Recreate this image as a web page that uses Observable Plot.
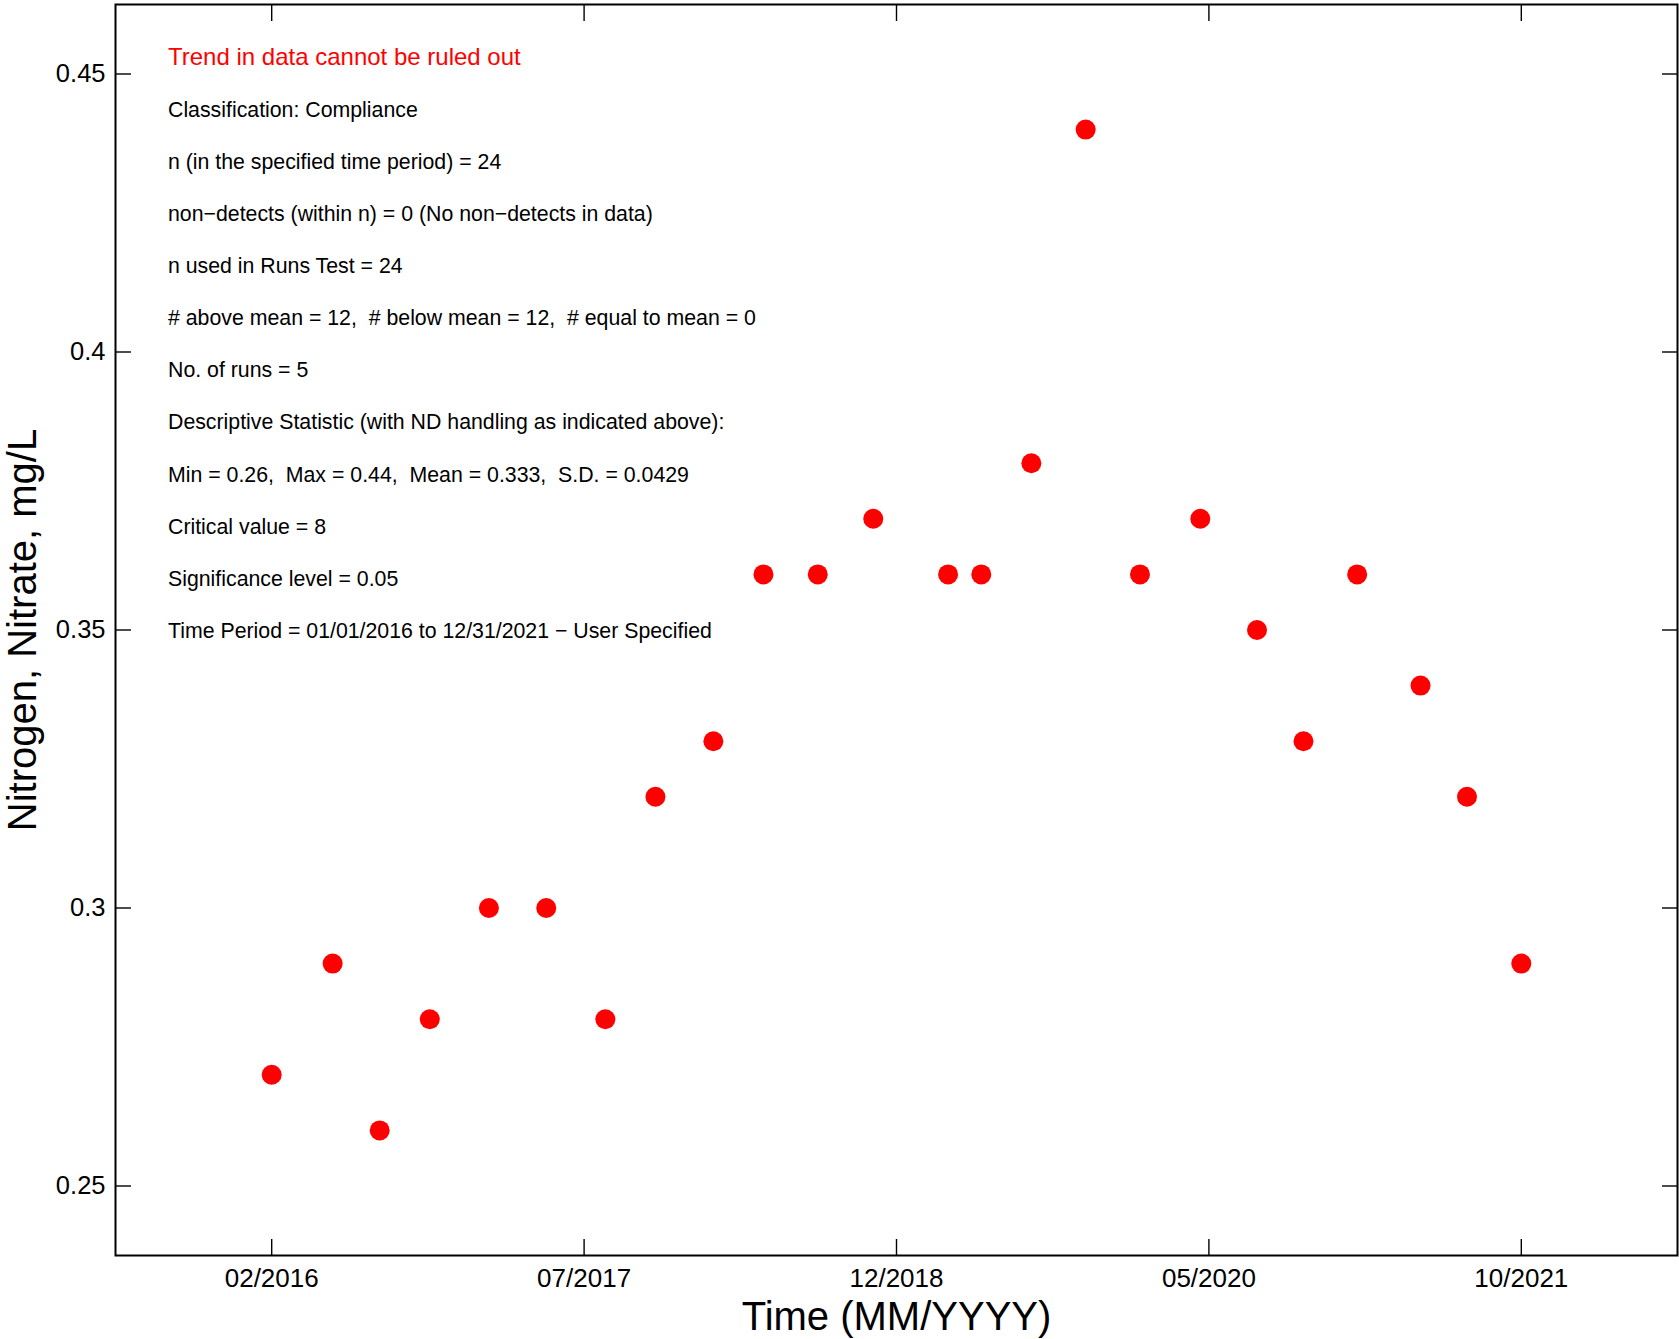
<!DOCTYPE html>
<html>
<head>
<meta charset="utf-8">
<script src="https://cdn.jsdelivr.net/npm/d3@7"></script>
<script src="https://cdn.jsdelivr.net/npm/@observablehq/plot@0.6"></script>
<style>
  html, body { margin: 0; padding: 0; background: #fff; }
  svg text { white-space: pre; }
</style>
</head>
<body>
<div id="chart"></div>
<script>
// ---- data ----
const sampleDates = [
  "2016-02-03", "2016-05-14", "2016-07-31", "2016-10-22", "2017-01-28", "2017-05-03",
  "2017-08-09", "2017-10-31", "2018-02-04", "2018-04-28", "2018-07-27", "2018-10-27",
  "2019-02-28", "2019-04-24", "2019-07-16", "2019-10-14", "2020-01-12", "2020-04-21",
  "2020-07-24", "2020-10-09", "2021-01-06", "2021-04-21", "2021-07-07", "2021-10-05"
];
const nitrateValues = [
  0.27, 0.29, 0.26, 0.28, 0.30, 0.30,
  0.28, 0.32, 0.33, 0.36, 0.36, 0.37,
  0.36, 0.36, 0.38, 0.44, 0.36, 0.37,
  0.35, 0.33, 0.36, 0.34, 0.32, 0.29
];
const xTickLabels = ["02/2016", "07/2017", "12/2018", "05/2020", "10/2021"];
const yTicks = [0.25, 0.3, 0.35, 0.4, 0.45];
const yDomain = [0.2375, 0.4625];
const xLabel = "Time (MM/YYYY)";
const yLabel = "Nitrogen, Nitrate, mg/L";
const annotationTitle = "Trend in data cannot be ruled out";
const annotationLines = [
  "Classification: Compliance",
  "n (in the specified time period) = 24",
  "non\u2212detects (within n) = 0 (No non\u2212detects in data)",
  "n used in Runs Test = 24",
  "# above mean = 12,  # below mean = 12,  # equal to mean = 0",
  "No. of runs = 5",
  "Descriptive Statistic (with ND handling as indicated above):",
  "Min = 0.26,  Max = 0.44,  Mean = 0.333,  S.D. = 0.0429",
  "Critical value = 8",
  "Significance level = 0.05",
  "Time Period = 01/01/2016 to 12/31/2021 \u2212 User Specified"
];

// ---- build table ----
const data = sampleDates.map((d, i) => ({date: new Date(d), value: nitrateValues[i]}));
const [t0, t1] = d3.extent(data, d => d.date);
const span = t1 - t0;
const xDomain = [new Date(+t0 - span / 8), new Date(+t1 + span / 8)];
const xTicks = xTickLabels.map((_, i) => new Date(+t0 + i * span / (xTickLabels.length - 1)));
const xLabelMap = new Map(xTicks.map((t, i) => [+t, xTickLabels[i]]));

const font = "'Liberation Sans', Arial, Helvetica, sans-serif";

const chart = Plot.plot({
  width: 1679,
  height: 1339,
  marginLeft: 115,
  marginRight: 2,
  marginTop: 4,
  marginBottom: 84,
  style: {fontFamily: font, background: "#fff", color: "#000"},
  x: {type: "utc", domain: xDomain, label: null},
  y: {domain: yDomain, label: null},
  marks: [
    Plot.axisX(xTicks, {anchor: "bottom", tickSize: -16, tickPadding: 29, strokeWidth: 1.4,
      fontSize: 26, label: null, tickFormat: d => xLabelMap.get(+d)}),
    Plot.axisX(xTicks, {anchor: "top", tickSize: -16, strokeWidth: 1.4, label: null, tickFormat: () => ""}),
    Plot.axisY(yTicks, {anchor: "left", tickSize: -16, tickPadding: 26, strokeWidth: 1.4,
      fontSize: 25.5, label: null, tickFormat: d => String(d)}),
    Plot.axisY(yTicks, {anchor: "right", tickSize: -16, strokeWidth: 1.4, label: null, tickFormat: () => ""}),
    Plot.frame({stroke: "#000", strokeWidth: 2}),
    Plot.dot(data, {x: "date", y: "value", r: 10, fill: "#ff0000", stroke: "none"}),
    Plot.text([annotationTitle], {text: d => d, frameAnchor: "top-left", textAnchor: "start",
      lineAnchor: "middle", dx: 52.5, dy: 52.5, fill: "#ff0000", fontSize: 24}),
    Plot.text([annotationLines.join("\n")], {text: d => d, frameAnchor: "top-left", textAnchor: "start",
      lineAnchor: "top", dx: 52.5, dy: 75, lineHeight: 2.448, fill: "#000", fontSize: 21.3}),
    Plot.text([xLabel], {text: d => d, frameAnchor: "bottom", textAnchor: "middle",
      lineAnchor: "middle", dy: 61.5, fill: "#000", fontSize: 40}),
    Plot.text([yLabel], {text: d => d, frameAnchor: "left", textAnchor: "middle",
      lineAnchor: "middle", rotate: -90, dx: -92.5, fill: "#000", fontSize: 40})
  ]
});
document.getElementById("chart").appendChild(chart);
</script>
</body>
</html>
